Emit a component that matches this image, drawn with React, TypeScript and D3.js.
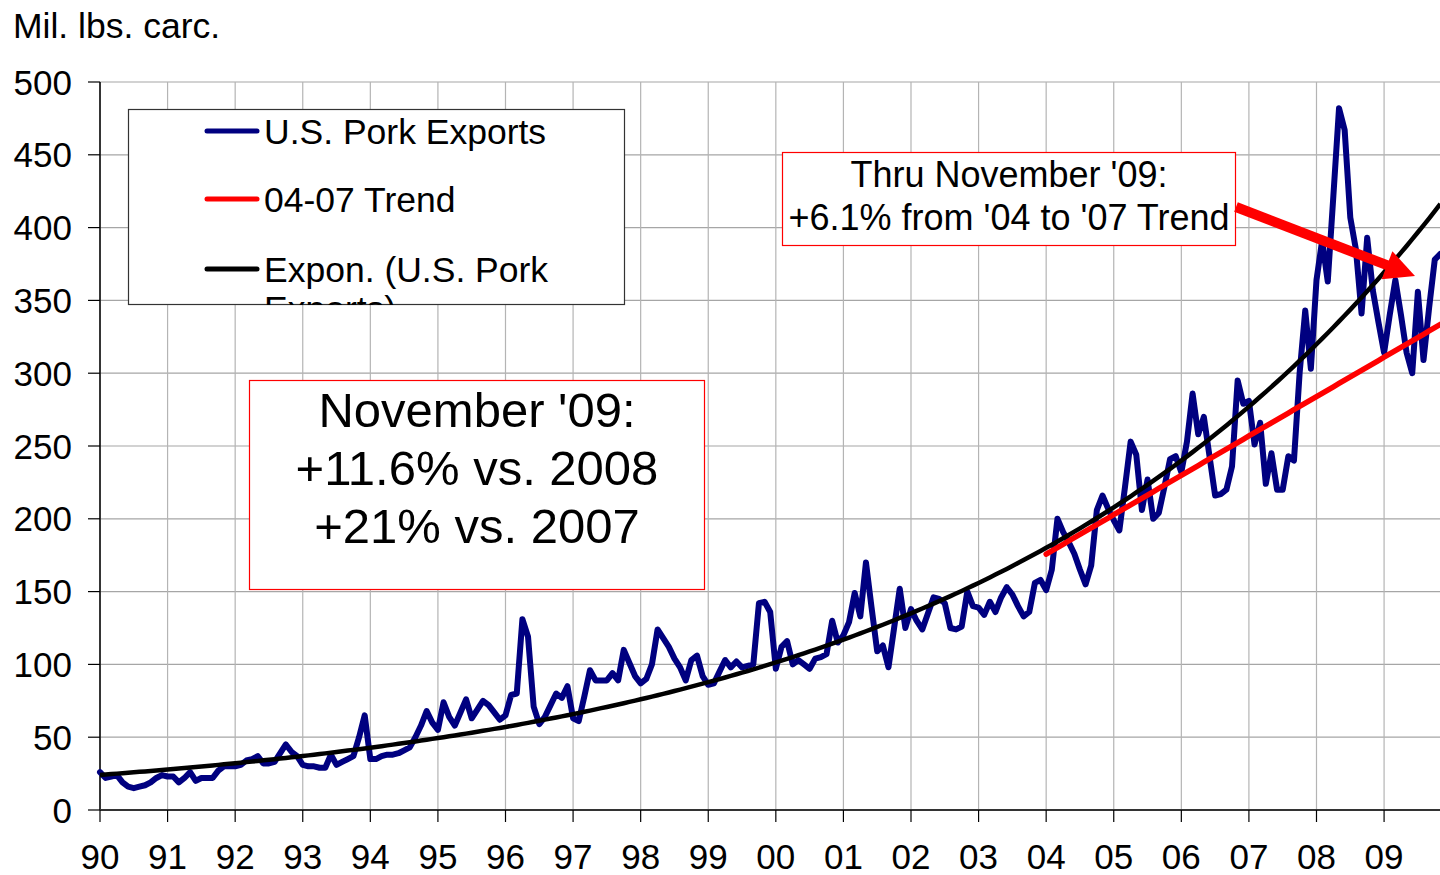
import React from 'react';
import * as d3 from 'd3';

// ---- data (million lbs carcass weight, monthly, Jan 1990 – Nov 2009) ----
const yearLabels = ['90','91','92','93','94','95','96','97','98','99','00','01','02','03','04','05','06','07','08','09'];
const y1990 = [26, 22, 23, 24, 19, 16, 15, 16, 17, 19, 22, 24];
const y1991 = [23, 23, 19, 22, 26, 20, 22, 22, 22, 27, 30, 30];
const y1992 = [30, 31, 34, 35, 37, 32, 32, 33, 39, 45, 40, 37];
const y1993 = [31, 30, 30, 29, 29, 38, 31, 33, 35, 37, 50, 65];
const y1994 = [35, 35, 37, 38, 38, 39, 41, 43, 50, 58, 68, 60];
const y1995 = [55, 74, 64, 58, 67, 76, 63, 69, 75, 72, 67, 62];
const y1996 = [65, 79, 80, 131, 119, 71, 59, 64, 72, 80, 77, 85];
const y1997 = [63, 61, 78, 96, 89, 89, 89, 94, 89, 110, 101, 92];
const y1998 = [87, 90, 100, 124, 118, 112, 104, 98, 89, 103, 106, 92];
const y1999 = [86, 87, 95, 103, 98, 102, 98, 99, 100, 142, 143, 136];
const y2000 = [97, 112, 116, 100, 103, 100, 97, 104, 105, 107, 130, 115];
const y2001 = [120, 129, 149, 133, 170, 139, 109, 113, 98, 125, 152, 125];
const y2002 = [138, 130, 124, 135, 146, 145, 142, 125, 124, 126, 150, 140];
const y2003 = [139, 134, 143, 136, 146, 153, 148, 140, 133, 136, 156, 158];
const y2004 = [151, 165, 200, 191, 184, 176, 165, 155, 168, 206, 216, 207];
const y2005 = [199, 192, 222, 253, 244, 206, 227, 200, 204, 222, 241, 243];
const y2006 = [232, 253, 286, 258, 270, 243, 216, 217, 220, 236, 295, 279];
const y2007 = [281, 251, 266, 224, 245, 220, 220, 243, 240, 300, 343, 303];
const y2008 = [364, 391, 363, 422, 482, 467, 407, 385, 341, 393, 357, 335];
const y2009 = [314, 340, 364, 340, 314, 300, 356, 309, 345, 378, 382];

const yTicks = [0, 50, 100, 150, 200, 250, 300, 350, 400, 450, 500];
const seriesColors = ['#000080', '#ff0000', '#000000'];
const trendFitStart = 168; // Jan 2004
const trendFitEnd = 215;   // Dec 2007

const exportsData: number[] = [
  ...y1990, ...y1991, ...y1992, ...y1993, ...y1994, ...y1995, ...y1996, ...y1997, ...y1998, ...y1999,
  ...y2000, ...y2001, ...y2002, ...y2003, ...y2004, ...y2005, ...y2006, ...y2007, ...y2008, ...y2009,
];

function linFit(xs: number[], ys: number[]) {
  const mx = d3.mean(xs)!;
  const my = d3.mean(ys)!;
  let num = 0, den = 0;
  xs.forEach((x, i) => { num += (x - mx) * (ys[i] - my); den += (x - mx) * (x - mx); });
  const b = num / den;
  return { a: my - b * mx, b };
}

const FONT = "Arial, 'Liberation Sans', sans-serif";

export default function App() {
  const W = 1440, H = 875;
  const lastIdx = exportsData.length - 1;
  const x = d3.scaleLinear().domain([0, lastIdx]).range([100, 1440.4]);
  const y = d3.scaleLinear().domain([0, 500]).range([810, 82]);

  const pts = exportsData.map((v, i) => [i, v] as [number, number]);
  const line = d3.line<[number, number]>().x(d => x(d[0])).y(d => y(d[1]));

  // Exponential trend (least squares on ln y), like Excel's Expon. trendline
  const idx = pts.map(p => p[0]);
  const ef = linFit(idx, pts.map(p => Math.log(p[1])));
  const expPts = idx.map(i => [i, Math.exp(ef.a + ef.b * i)] as [number, number]);

  // 04-07 linear trend
  const sub = pts.filter(p => p[0] >= trendFitStart && p[0] <= trendFitEnd);
  const lf = linFit(sub.map(p => p[0]), sub.map(p => p[1]));
  const redPts = idx.filter(i => i >= trendFitStart).map(i => [i, lf.a + lf.b * i] as [number, number]);

  const yearIdx = yearLabels.map((_, k) => k * 12);

  // arrow geometry
  const ax0 = 1236, ay0 = 207, tipX = 1415, tipY = 276;
  const dx = tipX - ax0, dy = tipY - ay0, len = Math.hypot(dx, dy);
  const ux = dx / len, uy = dy / len, px = -uy, py = ux;
  const headL = 30, headW = 15;
  const bx = tipX - headL * ux, by = tipY - headL * uy;

  const legendItems = [
    { y: 131, label: ['U.S. Pork Exports'] },
    { y: 199, label: ['04-07 Trend'] },
    { y: 269, label: ['Expon. (U.S. Pork', 'Exports)'] },
  ];

  return (
    <svg width={W} height={H} style={{ position: 'absolute', left: 0, top: 0, background: '#fff' }} fontFamily={FONT}>
      <defs>
        <clipPath id="plotClip"><rect x={0} y={0} width={1440} height={875} /></clipPath>
        <clipPath id="legClip"><rect x={128} y={109} width={497} height={196} /></clipPath>
      </defs>
      <rect x={0} y={0} width={W} height={H} fill="#fff" />

      {/* gridlines */}
      {yTicks.map(t => (
        <line key={'h' + t} x1={100} x2={1440} y1={y(t)} y2={y(t)} stroke="#a6a6a6" strokeWidth={1.2} />
      ))}
      {yearIdx.map(i => (
        <line key={'v' + i} x1={x(i)} x2={x(i)} y1={y(500)} y2={y(0)} stroke="#b4b4b4" strokeWidth={1.2} />
      ))}

      {/* axes */}
      <line x1={100} x2={100} y1={y(500)} y2={y(0)} stroke="#000" strokeWidth={1.5} />
      <line x1={100} x2={1440} y1={y(0)} y2={y(0)} stroke="#333" strokeWidth={2.2} />
      {yTicks.map(t => (
        <g key={'yt' + t}>
          <line x1={88} x2={100} y1={y(t)} y2={y(t)} stroke="#000" strokeWidth={1.2} />
          <text x={72} y={y(t)} dy="0.36em" textAnchor="end" fontSize={35} fill="#000">{t}</text>
        </g>
      ))}
      {yearIdx.map((i, k) => (
        <g key={'xt' + i}>
          <line x1={x(i)} x2={x(i)} y1={810} y2={822} stroke="#000" strokeWidth={1.2} />
          <text x={x(i)} y={869} textAnchor="middle" fontSize={35} fill="#000">{yearLabels[k]}</text>
        </g>
      ))}

      {/* series */}
      <g clipPath="url(#plotClip)">
        <path d={line(pts)!} fill="none" stroke={seriesColors[0]} strokeWidth={6} strokeLinejoin="round" strokeLinecap="round" />
        <path d={line(redPts)!} fill="none" stroke={seriesColors[1]} strokeWidth={5.5} strokeLinecap="round" />
        <path d={line(expPts)!} fill="none" stroke={seriesColors[2]} strokeWidth={4.5} />
      </g>

      {/* title */}
      <text x={13} y={38} fontSize={35.5} fill="#000">Mil. lbs. carc.</text>

      {/* legend */}
      <rect x={128.5} y={109.5} width={496} height={195} fill="#fff" stroke="#333" strokeWidth={1.2} />
      <g clipPath="url(#legClip)">
        {legendItems.map((it, k) => (
          <g key={'leg' + k}>
            <line x1={207} x2={257} y1={it.y} y2={it.y} stroke={seriesColors[k]} strokeWidth={5} strokeLinecap="round" />
            {it.label.map((s, j) => (
              <text key={j} x={264} y={it.y + 13 + j * 39} fontSize={35.5} fill="#000">{s}</text>
            ))}
          </g>
        ))}
      </g>

      {/* big annotation */}
      <rect x={249.5} y={380.5} width={455} height={209} fill="#fff" stroke="#ff0000" strokeWidth={1.2} />
      {["November '09:", '+11.6% vs. 2008', '+21% vs. 2007'].map((s, k) => (
        <text key={'b' + k} x={477} y={427 + k * 58} textAnchor="middle" fontSize={49} fill="#000">{s}</text>
      ))}

      {/* top-right annotation */}
      <rect x={782.5} y={152.5} width={453} height={93} fill="#fff" stroke="#ff0000" strokeWidth={1.2} />
      {["Thru November '09:", "+6.1% from '04 to '07 Trend"].map((s, k) => (
        <text key={'t' + k} x={1009} y={187 + k * 43} textAnchor="middle" fontSize={36} fill="#000">{s}</text>
      ))}

      {/* arrow */}
      <line x1={ax0} y1={ay0} x2={bx + 2 * ux} y2={by + 2 * uy} stroke="#ff0000" strokeWidth={10} />
      <polygon
        points={`${tipX},${tipY} ${bx + headW * px},${by + headW * py} ${bx - headW * px},${by - headW * py}`}
        fill="#ff0000"
      />
    </svg>
  );
}
